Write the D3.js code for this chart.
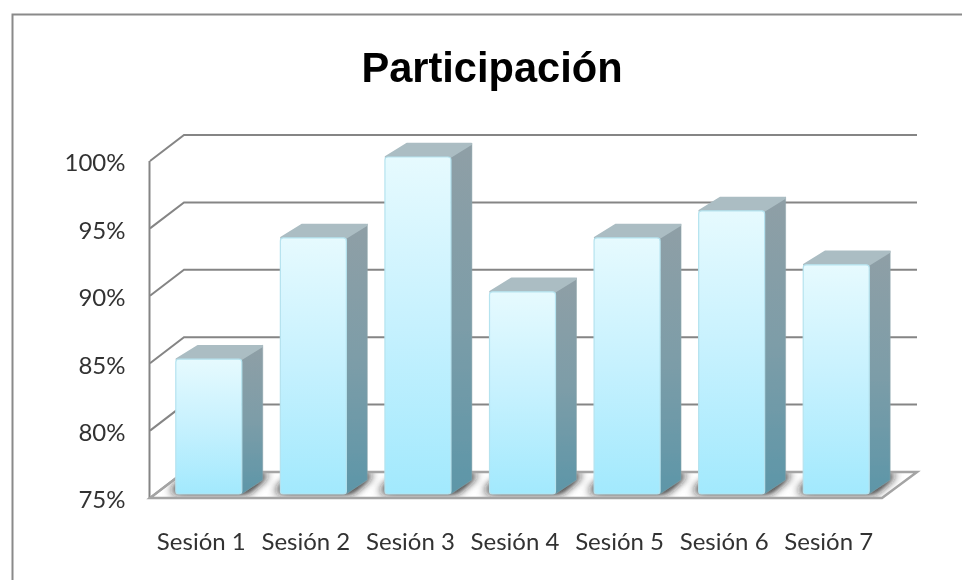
<!DOCTYPE html>
<html>
<head>
<meta charset="utf-8">
<script src="https://cdn.jsdelivr.net/npm/d3@7"></script>
<style>
html,body{margin:0;padding:0;background:#fff;overflow:hidden}
svg{display:block}
</style>
</head>
<body>
<svg id="c" width="962" height="580"></svg>
<script>
const title = "Participación";
const categories = ["Sesión 1","Sesión 2","Sesión 3","Sesión 4","Sesión 5","Sesión 6","Sesión 7"];
const values = [85,94,100,90,94,96,92];
const yTicks = [75,80,85,90,95,100];

const svg = d3.select("#c");
const defs = svg.append("defs");
const grad = (id, stops) => {
  const g = defs.append("linearGradient").attr("id", id).attr("x1",0).attr("y1",0).attr("x2",0).attr("y2",1);
  stops.forEach(([o,c]) => g.append("stop").attr("offset",o).attr("stop-color",c));
};
grad("front", [[0,"#e6fafe"],[0.5,"#c6f1fe"],[1,"#a2e9fd"]]);
grad("side", [[0,"#8f9fa6"],[0.5,"#7d9da8"],[1,"#5d96a8"]]);
defs.append("filter").attr("id","soft").attr("x","-5%").attr("y","-5%").attr("width","110%").attr("height","110%")
  .append("feGaussianBlur").attr("stdDeviation",0.6);
defs.append("filter").attr("id","softText").attr("x","-5%").attr("y","-5%").attr("width","110%").attr("height","110%")
  .append("feGaussianBlur").attr("stdDeviation",0.35);
defs.append("filter").attr("id","shadow").attr("x","-30%").attr("y","-60%").attr("width","160%").attr("height","220%")
  .append("feGaussianBlur").attr("stdDeviation",5);

const x = d3.scaleBand().domain(categories).range([150,882]).paddingInner(0.369).paddingOuter(0.1845);
const y = d3.scaleLinear().domain([75,100]).range([498,161]);
const wall = {dx:34, dy:-26};     // full floor depth
const inset = {dx:6.5, dy:-4};    // bar offset from front of floor
const barD = {dx:21, dy:-14};     // bar depth
const right = 882;
const poly = pts => pts.map(p => p.join(",")).join(" ");

// chart frame
svg.append("path").attr("d","M12.5,580V14.5H962").attr("fill","none").attr("stroke","#8a8a8a").attr("stroke-width",2);

const g = svg.append("g").attr("filter","url(#soft)");

// floor
const floorPts = [[x.range()[0],y(75)],[right,y(75)],[right+wall.dx+1,y(75)+wall.dy],[x.range()[0]+wall.dx,y(75)+wall.dy]];
defs.append("clipPath").attr("id","floorClip").append("polygon").attr("points",poly(floorPts));
g.append("polygon").attr("points",poly(floorPts)).attr("fill","#fff");
const shClip = g.append("g").attr("clip-path","url(#floorClip)");
[0,1].forEach(() => {
  shClip.append("g").attr("filter","url(#shadow)")
    .selectAll("polygon").data(categories).join("polygon")
    .attr("points", d => {
      const x0 = x(d)+inset.dx-5, x1 = x0+x.bandwidth()+10, b = y(75)+inset.dy-2;
      return poly([[x0,b],[x1,b],[x1+barD.dx,b+barD.dy-4],[x0+barD.dx,b+barD.dy-4]]);
    }).attr("fill","#222");
});

// gridlines: diagonal + back wall
const grid = g.append("g").attr("fill","none").attr("stroke","#858585").attr("stroke-width",2);
grid.selectAll("path.g").data(yTicks).join("path").attr("class","g")
  .attr("d", t => `M${x.range()[0]},${y(t)}L${x.range()[0]+wall.dx},${y(t)+wall.dy}H${right+wall.dx+1}`);
grid.append("path").attr("d",`M${x.range()[0]-0.5},${y(100)}V${y(75)}`);
g.append("polygon").attr("points",poly(floorPts)).attr("fill","none").attr("stroke","#a4a4a4").attr("stroke-width",2.5);

// bars
const bars = g.selectAll("g.bar").data(categories.map((c,i)=>({c,v:values[i]}))).join("g").attr("class","bar");
const X0 = d => x(d.c)+inset.dx, X1 = d => X0(d)+x.bandwidth();
const T = d => y(d.v)+inset.dy, B = () => y(75)+inset.dy;
bars.append("polygon").attr("fill","url(#side)").attr("stroke","#8fa6ad").attr("stroke-width",0.5)
  .attr("points", d => poly([[X1(d),T(d)],[X1(d)+barD.dx,T(d)+barD.dy],[X1(d)+barD.dx,B()+barD.dy],[X1(d),B()]]));
bars.append("polygon").attr("fill","#abbdc3").attr("stroke","#abbdc3").attr("stroke-width",2.5).attr("stroke-linejoin","round")
  .attr("points", d => poly([[X0(d)+1,T(d)],[X1(d)-1,T(d)],[X1(d)+barD.dx-1,T(d)+barD.dy+1],[X0(d)+barD.dx+1,T(d)+barD.dy+1]]));
bars.append("rect").attr("fill","url(#front)").attr("stroke","#b5e3ef").attr("stroke-width",1.2).attr("rx",3)
  .attr("x",X0).attr("y",T).attr("width",x.bandwidth()).attr("height",d=>B()-T(d));

// axes (text only)
const fontAxis = "Lato, 'Open Sans', sans-serif";
const ay = svg.append("g").attr("transform","translate(125.5,1.5)").attr("filter","url(#softText)")
  .call(d3.axisLeft(y).tickValues(yTicks).tickSize(0).tickPadding(0).tickFormat(d=>d+"%"));
ay.select(".domain").remove();
ay.selectAll("text").attr("font-family",fontAxis).attr("font-size",24).attr("fill","#333").attr("dy","0.35em");
const ax = svg.append("g").attr("transform","translate(-1,526)").attr("filter","url(#softText)")
  .call(d3.axisBottom(x).tickSize(0).tickPadding(0));
ax.select(".domain").remove();
ax.selectAll("text").attr("font-family",fontAxis).attr("font-size",24).attr("fill","#333").attr("dy","1em");

// title
svg.append("text").attr("x",492).attr("y",82).attr("text-anchor","middle").attr("filter","url(#softText)")
  .attr("font-family","'Liberation Sans', Arial, sans-serif").attr("font-weight","bold").attr("font-size",41.6).attr("fill","#000").text(title);
</script>
</body>
</html>
